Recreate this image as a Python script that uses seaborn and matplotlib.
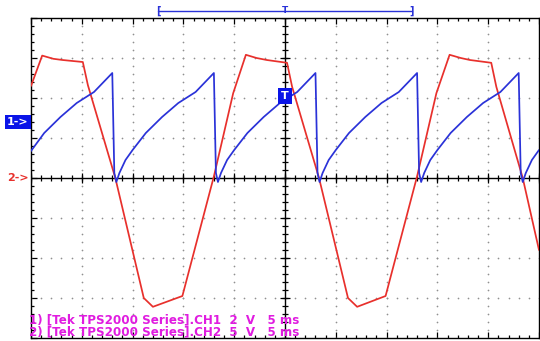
import numpy as np
import pandas as pd
import matplotlib
matplotlib.use("Agg")
import matplotlib.pyplot as plt
from matplotlib.ticker import MultipleLocator
from matplotlib.transforms import blended_transform_factory
import seaborn as sns

# ---------------- data ----------------
# CH1 : 2 V/div, ground marker 1.4 div above centre
ch1_time_ms = [-25.0, -23.7, -22.1, -20.5, -18.8, -17.0, -16.8, -16.6, -16.3, -15.7,
               -15.0, -13.7, -12.1, -10.5, -8.8, -7.0, -6.8, -6.6, -6.3, -5.7,
               -5.0, -3.7, -2.1, -0.5, 1.2, 3.0, 3.2, 3.4, 3.7, 4.3,
               5.0, 6.3, 7.9, 9.5, 11.2, 13.0, 13.2, 13.4, 13.7, 14.3,
               15.0, 16.3, 17.9, 19.5, 21.2, 23.0, 23.2, 23.4, 23.7, 24.3, 25.0]
ch1_volts = [-1.45, -0.55, 0.25, 0.95, 1.5, 2.45, -2.55, -3.0, -2.55, -1.9,
             -1.4, -0.55, 0.25, 0.95, 1.5, 2.45, -2.55, -3.0, -2.55, -1.9,
             -1.4, -0.55, 0.25, 0.95, 1.5, 2.45, -2.55, -3.0, -2.55, -1.9,
             -1.4, -0.55, 0.25, 0.95, 1.5, 2.45, -2.55, -3.0, -2.55, -1.9,
             -1.4, -0.55, 0.25, 0.95, 1.5, 2.45, -2.55, -3.0, -2.55, -1.9, -1.4]

# CH2 : 5 V/div, ground marker at centre
ch2_time_ms = [-25.0, -23.9, -22.8, -21.9, -19.9, -19.4, -16.7, -13.9, -13.0, -10.1,
               -7.0, -5.1, -3.85, -2.8, -1.8, 0.2, 0.7, 3.35, 6.2, 7.1,
               9.9, 13.0, 14.9, 16.2, 17.3, 18.2, 20.3, 20.8, 23.4, 25.0]
ch2_volts = [11.5, 15.3, 14.9, 14.75, 14.5, 11.6, 0.0, -15.0, -16.1, -14.75,
             0.2, 10.6, 15.4, 15.0, 14.75, 14.4, 11.4, 0.0, -15.0, -16.1,
             -14.75, 0.2, 10.6, 15.4, 15.0, 14.75, 14.4, 11.4, 0.0, -9.0]

ch1_label = "1) [Tek TPS2000 Series].CH1  2  V   5 ms"
ch2_label = "2) [Tek TPS2000 Series].CH2  5  V   5 ms"
ch1_marker = "1->"
ch2_marker = "2->"
trigger_marker = "T"
trigger_level_v = 1.3

# ---------------- style ----------------
sns.set_theme(style="white")
plt.rcParams["font.family"] = ["DejaVu Sans"]

RED = "#e8302c"
BLUE = "#2a32d8"
BOXBLUE = "#0a14e8"
MAGENTA = "#e01ce0"

fig = plt.figure(figsize=(5.4, 3.41), dpi=100)
fig.patch.set_facecolor("white")
ax = fig.add_axes([31 / 540, 3 / 341, 508 / 540, 320 / 341])
ax.set_facecolor("white")
ax.set_xlim(-25, 25)
ax.set_ylim(-20, 20)

# dotted graticule
gx = [-20, -15, -10, -5, 5, 10, 15, 20]
gy = [-15, -10, -5, 5, 10, 15]
minor_y = np.arange(-20, 21, 1)
minor_x = np.arange(-25, 26, 1)
for x in gx:
    ax.scatter(np.full(minor_y.size, x), minor_y, s=1.5, c="#909090", linewidths=0, zorder=1)
for y in gy:
    ax.scatter(minor_x, np.full(minor_x.size, y), s=1.5, c="#909090", linewidths=0, zorder=1)

# centre cross-hair with ticks
ax.axhline(0, color="black", lw=1.0, zorder=2)
ax.axvline(0, color="black", lw=1.0, zorder=2)
ax.plot(minor_x, np.zeros(minor_x.size), ls="none", marker="|", ms=5, mew=0.9, color="black", zorder=2)
ax.plot(np.arange(-25, 26, 5), np.zeros(11), ls="none", marker="|", ms=7, mew=0.9, color="black", zorder=2)
ax.plot(np.zeros(minor_y.size), minor_y, ls="none", marker="_", ms=5, mew=0.9, color="black", zorder=2)
ax.plot(np.zeros(9), np.arange(-20, 21, 5), ls="none", marker="_", ms=7, mew=0.9, color="black", zorder=2)

# border ticks
ax.xaxis.set_major_locator(MultipleLocator(5))
ax.xaxis.set_minor_locator(MultipleLocator(1))
ax.yaxis.set_major_locator(MultipleLocator(5))
ax.yaxis.set_minor_locator(MultipleLocator(1))
ax.tick_params(which="both", direction="in", top=True, right=True, bottom=True, left=True,
               labelbottom=False, labelleft=False, color="black", width=0.9)
ax.tick_params(which="major", length=4.5)
ax.tick_params(which="minor", length=2.5)
for s in ax.spines.values():
    s.set_color("black")
    s.set_linewidth(1.0)

# CH2 trace
df2 = pd.DataFrame({"t": ch2_time_ms, "v": ch2_volts})
sns.lineplot(data=df2, x="t", y="v", ax=ax, color=RED, lw=1.25, sort=False,
             estimator=None, legend=False, zorder=4)
ax.set_xlabel("")
ax.set_ylabel("")

# CH1 trace on its own vertical scale
ax2 = ax.twinx()
ax2.set_ylim(-10.8, 5.2)
df1 = pd.DataFrame({"t": ch1_time_ms, "v": ch1_volts})
sns.lineplot(data=df1, x="t", y="v", ax=ax2, color=BLUE, lw=1.25, sort=False,
             estimator=None, legend=False, zorder=5)
ax2.set_xlim(-25, 25)
ax2.axis("off")

# markers
tr1 = blended_transform_factory(ax2.transAxes, ax2.transData)
ax2.text(-0.0256, 0, ch1_marker, transform=tr1, ha="center", va="center", color="white",
         fontsize=8, fontweight="bold", clip_on=False,
         bbox=dict(boxstyle="square,pad=0.2", fc=BOXBLUE, ec="none"))
tr2 = blended_transform_factory(ax.transAxes, ax.transData)
ax.text(-0.0256, 0, ch2_marker, transform=tr2, ha="center", va="center", color=RED,
        fontsize=8, fontweight="bold", clip_on=False)
ax2.text(0, trigger_level_v, trigger_marker, ha="center", va="center", color="white",
         fontsize=8, fontweight="bold", zorder=6,
         bbox=dict(boxstyle="square,pad=0.3", fc=BOXBLUE, ec="none"))

# record window bar on top
xt = ax.get_xaxis_transform()
ax.plot([-12.5, 12.5], [1.022, 1.022], transform=xt, clip_on=False, color=BLUE, lw=1.0)
ax.text(-12.5, 1.022, "[", transform=xt, ha="center", va="center", color=BLUE,
        fontsize=7, fontweight="bold", clip_on=False)
ax.text(12.5, 1.022, "]", transform=xt, ha="center", va="center", color=BLUE,
        fontsize=7, fontweight="bold", clip_on=False)
ax.text(0, 1.022, "T", transform=xt, ha="center", va="center", color=BLUE,
        fontsize=6.5, fontweight="bold", clip_on=False)

# captions
ax.text(-0.004, 0.058, ch1_label, transform=ax.transAxes, ha="left", va="center",
        color=MAGENTA, fontsize=8.6, fontweight="bold", zorder=7)
ax.text(-0.004, 0.018, ch2_label, transform=ax.transAxes, ha="left", va="center",
        color=MAGENTA, fontsize=8.6, fontweight="bold", zorder=7)

fig.savefig("out.png", dpi=100, facecolor="white")
